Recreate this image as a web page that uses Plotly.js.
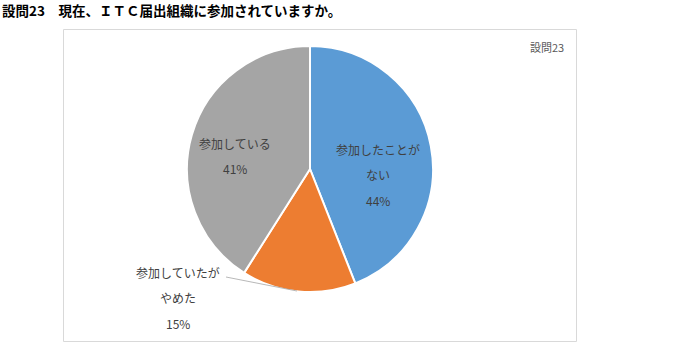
<!DOCTYPE html>
<html><head><meta charset="utf-8">
<script src="https://cdn.plot.ly/plotly-3.0.1.min.js"></script>
<style>html,body{margin:0;padding:0;background:#fff}#chart{width:683px;height:352px}</style>
</head><body><div id="chart"></div>
<script>
const titleText = "設問23　現在、ＩＴＣ届出組織に参加されていますか。";
const chartTag = "設問23";
const categories = ["参加したことがない", "参加していたがやめた", "参加している"];
const values = [44, 15, 41];
const labelLines = [["参加したことが", "ない"], ["参加していたが", "やめた"], ["参加している"]];
const colors = ["#5B9BD5", "#ED7D31", "#A5A5A5"];

const W = 683, H = 352;
const px = x => x / W, py = y => 1 - y / H;
const cx = 310, cy = 169, R = 123;

const total = values.reduce((a, b) => a + b, 0);
const pct = values.map(v => Math.round(v / total * 100) + "%");

// label anchor (center of first line) for each slice, line spacing ~25px
const labelPos = [[378, 149], [178, 272], [235, 143]];
const annotations = [];
labelLines.forEach((lines, i) => {
  const all = lines.concat([pct[i]]);
  all.forEach((t, j) => {
    annotations.push({
      xref: 'paper', yref: 'paper', x: px(labelPos[i][0]), y: py(labelPos[i][1] + j * 25.5),
      text: t, showarrow: false, xanchor: 'center', yanchor: 'middle',
      font: {family: '"Noto Sans CJK JP", sans-serif', size: 12, color: '#404040'}
    });
  });
});
annotations.push({
  xref: 'paper', yref: 'paper', x: 0, y: py(10.5), xanchor: 'left', yanchor: 'middle',
  text: "<b>" + titleText + "</b>", showarrow: false,
  font: {family: '"Noto Sans CJK JP", sans-serif', size: 13.5, color: '#000'}
});
annotations.push({
  xref: 'paper', yref: 'paper', x: px(566), y: py(47), xanchor: 'right', yanchor: 'middle',
  text: chartTag, showarrow: false,
  font: {family: '"Noto Sans CJK JP", sans-serif', size: 11, color: '#595959'}
});

const data = [{
  type: 'pie', labels: categories, values: values, sort: false, direction: 'clockwise',
  rotation: 0, textinfo: 'none', hoverinfo: 'label+percent',
  marker: {colors: colors, line: {color: '#ffffff', width: 2}},
  domain: {x: [px(cx - R), px(cx + R)], y: [py(cy + R), py(cy - R)]},
  showlegend: false
}];

const layout = {
  width: W, height: H, margin: {l: 0, r: 0, t: 0, b: 0},
  paper_bgcolor: '#fff', plot_bgcolor: '#fff', showlegend: false,
  annotations: annotations,
  shapes: [
    {type: 'rect', xref: 'paper', yref: 'paper', x0: px(63.5), x1: px(576.5), y0: py(341.5), y1: py(29.5),
     line: {color: '#D9D9D9', width: 1}, fillcolor: 'rgba(0,0,0,0)', layer: 'below'},
    {type: 'line', xref: 'paper', yref: 'paper', x0: px(226), y0: py(277), x1: px(297), y1: py(291),
     line: {color: '#A6A6A6', width: 0.8}}
  ]
};
Plotly.newPlot('chart', data, layout, {displayModeBar: false, staticPlot: true});
</script></body></html>
